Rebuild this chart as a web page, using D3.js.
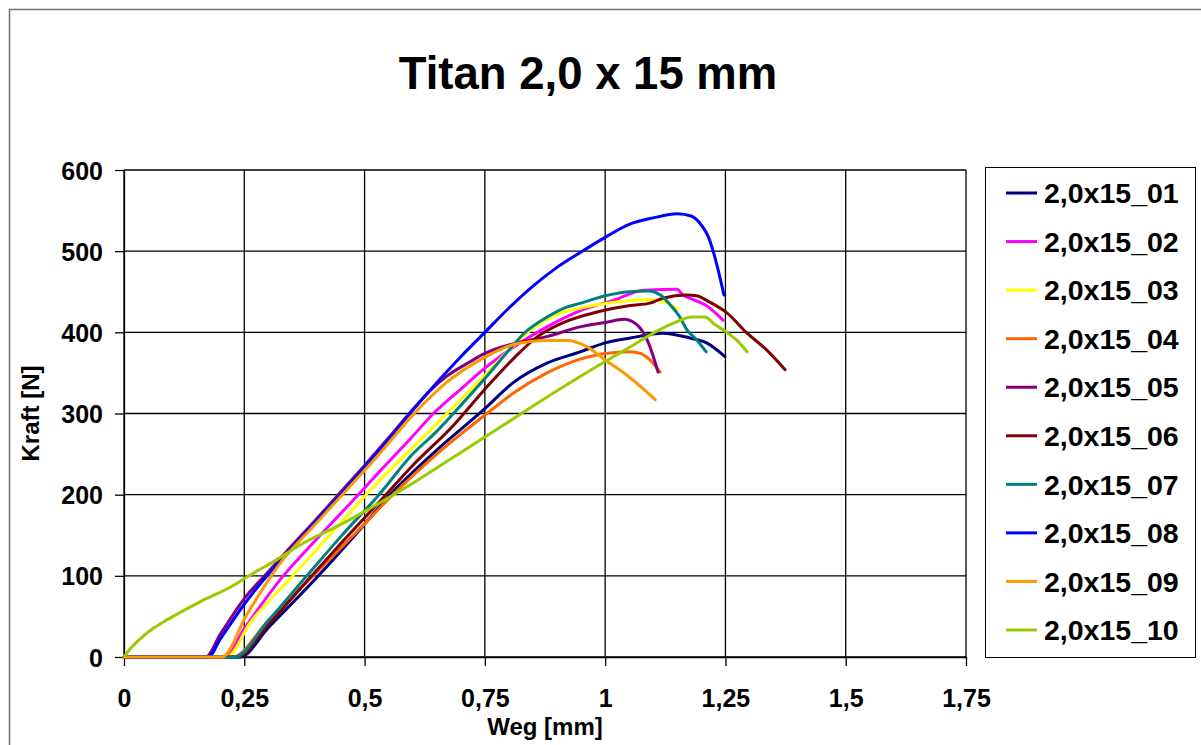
<!DOCTYPE html>
<html><head><meta charset="utf-8">
<script src="https://cdn.jsdelivr.net/npm/d3@7"></script>
<style>body{margin:0;background:#fff}svg{display:block}text{font-family:"Liberation Sans",Arial,sans-serif;font-weight:bold;fill:#000}</style>
</head><body>
<svg id="c" width="1201" height="745"></svg>
<script>
const title = "Titan 2,0 x 15 mm";
const xTitle = "Weg [mm]";
const yTitle = "Kraft [N]";
const xTicks = [0, 0.25, 0.5, 0.75, 1, 1.25, 1.5, 1.75];
const yTicks = [0, 100, 200, 300, 400, 500, 600];
const seriesNames = ["2,0x15_01","2,0x15_02","2,0x15_03","2,0x15_04","2,0x15_05","2,0x15_06","2,0x15_07","2,0x15_08","2,0x15_09","2,0x15_10"];
const seriesColors = ["#000080","#FF00FF","#FFFF00","#FF6600","#800080","#800000","#008080","#0000FF","#FF9900","#99CC00"];

const s01 = [[0,0],[0.241,0],[0.3,36],[0.404,100],[0.48,150],[0.553,200],[0.65,255],[0.75,306],[0.809,338],[0.879,362],[0.948,376],[1.0,387],[1.052,393],[1.12,399],[1.176,393],[1.211,387],[1.249,370]];
const s02 = [[0,0],[0.21,0],[0.25,35],[0.331,100],[0.4,145],[0.487,200],[0.532,229],[0.6,272],[0.643,300],[0.7,330],[0.75,356],[0.81,382],[0.88,407],[0.95,427],[1.02,440],[1.08,452],[1.15,453],[1.16,447],[1.185,440],[1.21,433],[1.245,415]];
const s03 = [[0,0],[0.214,0],[0.262,42],[0.351,100],[0.45,165],[0.532,218],[0.6,258],[0.671,300],[0.75,347],[0.8,378],[0.85,405],[0.9,422],[0.95,430],[1.02,437],[1.09,440],[1.13,436],[1.15,428]];
const s04 = [[0,0],[0.225,0],[0.3,45],[0.393,100],[0.48,152],[0.559,200],[0.65,250],[0.75,298],[0.809,325],[0.879,350],[0.948,367],[1.0,374],[1.052,376],[1.073,374],[1.093,366],[1.114,351]];
const s05 = [[0,0],[0.17,0],[0.2,28],[0.25,72],[0.3,105],[0.35,138],[0.4,170],[0.45,203],[0.5,236],[0.55,270],[0.6,305],[0.636,328],[0.671,346],[0.72,364],[0.75,374],[0.81,386],[0.88,395],[0.95,407],[1.0,412],[1.04,416],[1.07,407],[1.09,387],[1.11,351]];
const s06 = [[0,0],[0.235,0],[0.3,40],[0.39,100],[0.46,146],[0.532,192],[0.6,236],[0.684,285],[0.75,330],[0.81,368],[0.86,395],[0.913,412],[0.983,425],[1.052,433],[1.093,436],[1.12,442],[1.17,446],[1.19,445],[1.218,437],[1.253,424],[1.295,399],[1.336,378],[1.374,354]];
const s07 = [[0,0],[0.23,0],[0.3,45],[0.38,100],[0.45,148],[0.53,200],[0.6,250],[0.65,278],[0.7,310],[0.75,343],[0.8,378],[0.83,398],[0.88,419],[0.92,431],[0.95,436],[1.0,445],[1.05,450],[1.09,451],[1.115,446],[1.135,434],[1.155,419],[1.17,403],[1.19,391],[1.21,376]];
const s08 = [[0,0],[0.175,0],[0.2,22],[0.25,65],[0.3,102],[0.35,135],[0.4,168],[0.45,200],[0.5,234],[0.55,268],[0.6,304],[0.65,338],[0.7,370],[0.75,400],[0.8,430],[0.85,457],[0.9,480],[0.95,499],[1.0,517],[1.05,533],[1.1,541],[1.15,546],[1.18,543],[1.2,532],[1.215,517],[1.225,499],[1.247,446]];
const s09 = [[0,0],[0.204,0],[0.255,52],[0.324,115],[0.4,165],[0.46,204],[0.532,251],[0.6,298],[0.67,338],[0.74,366],[0.81,385],[0.88,390],[0.92,390],[0.96,383],[1.0,366],[1.05,345],[1.104,317]];
const s10 = [[0,0],[0.01,8],[0.033,22],[0.06,35],[0.09,46],[0.158,68],[0.227,88],[0.251,97],[0.318,120],[0.366,138],[0.45,163],[0.532,190],[0.6,214],[0.7,252],[0.8,290],[0.9,328],[1.0,364],[1.052,382],[1.1,399],[1.141,411],[1.18,419],[1.208,419],[1.225,411],[1.253,400],[1.274,390],[1.295,376]];
const seriesData = [s01,s02,s03,s04,s05,s06,s07,s08,s09,s10];

const svg = d3.select("#c");
svg.append("rect").attr("x",0).attr("y",0).attr("width",1201).attr("height",745).attr("fill","#fff");
svg.append("rect").attr("x",9.5).attr("y",9.5).attr("width",1196).attr("height",760)
  .attr("fill","none").attr("stroke","#707070").attr("stroke-width",1.5);

const x = d3.scaleLinear().domain([0,1.75]).range([124,966]);
const y = d3.scaleLinear().domain([0,600]).range([657,170]);
const fmt = d => String(d).replace(".", ",");

// grid
const grid = svg.append("g");
grid.selectAll(".gx").data(xTicks).join("line")
  .attr("x1",d=>x(d)).attr("x2",d=>x(d)).attr("y1",y(600)).attr("y2",y(0))
  .attr("stroke","#000").attr("stroke-width",1.3);
grid.selectAll(".gy").data(yTicks).join("line")
  .attr("x1",x(0)).attr("x2",x(1.75)).attr("y1",d=>y(d)).attr("y2",d=>y(d))
  .attr("stroke","#000").attr("stroke-width",1.3);

// axes
const ax = svg.append("g").attr("transform",`translate(0,${y(0)})`)
  .call(d3.axisBottom(x).tickValues(xTicks).tickFormat(fmt).tickSize(9).tickSizeOuter(0));
ax.select(".domain").attr("stroke","#000").attr("stroke-width",1.3);
ax.selectAll(".tick line").attr("stroke","#000").attr("stroke-width",1.3);
ax.selectAll(".tick text").attr("y",50).attr("dy",0).attr("font-size",25)
  .attr("font-family","Liberation Sans, Arial, sans-serif").attr("font-weight","bold");

const ay = svg.append("g").attr("transform",`translate(${x(0)},0)`)
  .call(d3.axisLeft(y).tickValues(yTicks).tickSize(9).tickSizeOuter(0));
ay.select(".domain").attr("stroke","#000").attr("stroke-width",1.3);
ay.selectAll(".tick line").attr("stroke","#000").attr("stroke-width",1.3);
ay.selectAll(".tick text").attr("x",-21).attr("dy","0.36em").attr("font-size",25)
  .attr("font-family","Liberation Sans, Arial, sans-serif").attr("font-weight","bold");

// lines
const line = d3.line().x(d=>x(d[0])).y(d=>y(d[1])).curve(d3.curveMonotoneX);
seriesData.forEach((s,i)=>{
  svg.append("path").datum(s).attr("d",line).attr("fill","none")
    .attr("stroke",seriesColors[i]).attr("stroke-width",3).attr("stroke-linejoin","round").attr("stroke-linecap","round");
});

// titles
svg.append("text").attr("x",588).attr("y",89).attr("text-anchor","middle").attr("font-size",45.5).text(title);
svg.append("text").attr("x",(x(0)+x(1.75))/2).attr("y",735).attr("text-anchor","middle").attr("font-size",24).text(xTitle);
svg.append("text").attr("transform",`translate(39,${(y(0)+y(600))/2}) rotate(-90)`).attr("text-anchor","middle").attr("font-size",24).text(yTitle);

// legend
const lg = svg.append("g");
lg.append("rect").attr("x",985.5).attr("y",167.5).attr("width",210).attr("height",490)
  .attr("fill","#fff").attr("stroke","#000").attr("stroke-width",1);
const ly = d3.scalePoint().domain(seriesNames).range([193,630]);
seriesNames.forEach((n,i)=>{
  lg.append("line").attr("x1",1006).attr("x2",1037).attr("y1",ly(n)).attr("y2",ly(n))
    .attr("stroke",seriesColors[i]).attr("stroke-width",3);
  lg.append("text").attr("x",1044).attr("y",ly(n)).attr("dy","0.36em").attr("font-size",28.5).text(n);
});
</script>
</body></html>
